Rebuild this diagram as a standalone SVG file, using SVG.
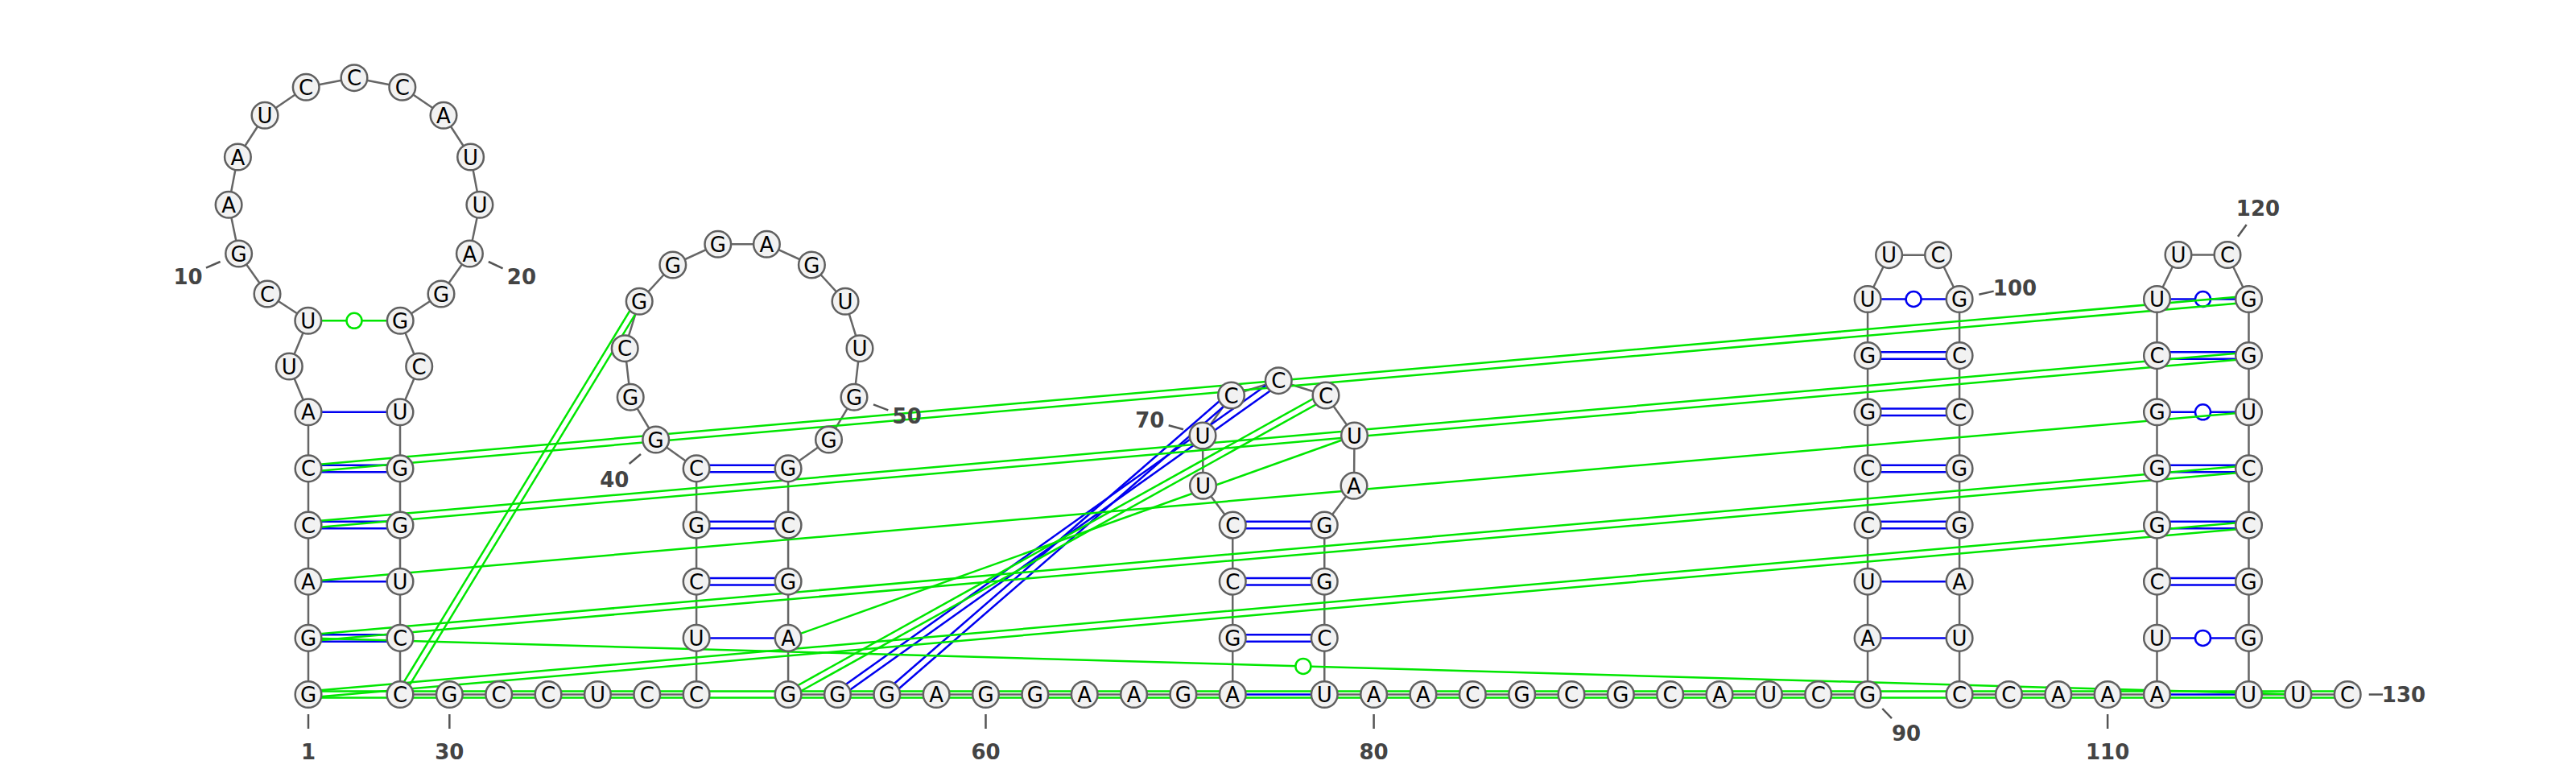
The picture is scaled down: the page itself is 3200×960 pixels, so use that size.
<svg xmlns="http://www.w3.org/2000/svg" width="3200" height="960" viewBox="0 0 3200 960">
<defs>
<style>
.bb{fill:none;stroke:#666;stroke-width:2.5;stroke-linejoin:round}
.bp{fill:none;stroke:#0000f0;stroke-width:2.5}
.gp{fill:none;stroke:#00e600;stroke-width:2.5}
.bc{fill:#fff;stroke:#0000f0;stroke-width:2.5}
.gc{fill:#fff;stroke:#00e600;stroke-width:2.5}
.nd circle{fill:#f2f2f2;stroke:#606060;stroke-width:2.5}
.nd text{font-family:"DejaVu Sans","Liberation Sans",sans-serif;font-size:26px;text-anchor:middle;fill:#000}
.lb{font-family:"DejaVu Sans","Liberation Sans",sans-serif;font-size:26px;font-weight:bold;fill:#444;text-anchor:middle}
.tk{stroke:#555;stroke-width:2.5}
</style>
</defs>
<rect width="3200" height="960" fill="#fff"/>
<g id="connectors">
<polyline class="bb" points="383,862.5 383,792.4 383,722.2 383,652.1 383,581.9 383,511.8 359.3,455 382.8,398.3 332,365 296.6,315 284.1,254.3 295.4,195 329,143.3 380.2,108.3 440,96.7 499.8,108.3 551,143.3 584.6,195 595.9,254.3 583.4,315 548,365 497.2,398.3 520.7,455 497,511.8 497,581.9 497,652.1 497,722.2 497,792.4 497,862.5 558.35,862.5 619.7,862.5 681.05,862.5 742.4,862.5 803.75,862.5 865.1,862.5 865.1,792.4 865.1,722.2 865.1,652.1 865.1,581.9 814.7,546 783.2,493.3 776.2,432.7 794.2,374.3 835.8,329 891.8,303.3 952.4,303.3 1008.4,329 1050,374.3 1068,432.7 1061,493.3 1029.5,546 979.1,581.9 979.1,652.1 979.1,722.2 979.1,792.4 979.1,862.5 1040.45,862.5 1101.8,862.5 1163.15,862.5 1224.5,862.5 1285.85,862.5 1347.2,862.5 1408.55,862.5 1469.9,862.5 1531.25,862.5 1531.25,792.4 1531.25,722.2 1531.25,652.1 1494.5,603.3 1494,541 1529.5,491 1588.25,472.7 1647,491 1682.5,541 1682,603.3 1645.25,652.1 1645.25,722.2 1645.25,792.4 1645.25,862.5 1706.6,862.5 1767.95,862.5 1829.3,862.5 1890.65,862.5 1952,862.5 2013.35,862.5 2074.7,862.5 2136.05,862.5 2197.4,862.5 2258.75,862.5 2320.1,862.5 2320.1,792.4 2320.1,722.2 2320.1,652.1 2320.1,581.9 2320.1,511.8 2320.1,441.6 2320.1,371.5 2346.6,316.7 2407.6,316.7 2434.1,371.5 2434.1,441.6 2434.1,511.8 2434.1,581.9 2434.1,652.1 2434.1,722.2 2434.1,792.4 2434.1,862.5 2495.45,862.5 2556.8,862.5 2618.15,862.5 2679.5,862.5 2679.5,792.4 2679.5,722.2 2679.5,652.1 2679.5,581.9 2679.5,511.8 2679.5,441.6 2679.5,371.5 2706,316.5 2767,316.5 2793.5,371.5 2793.5,441.6 2793.5,511.8 2793.5,581.9 2793.5,652.1 2793.5,722.2 2793.5,792.4 2793.5,862.5 2854.85,862.5 2916.2,862.5"/>
<g id="blue-pairs">
<path class="bp" d="M383 788.15H497M383 796.65H497"/>
<path class="bp" d="M383 722.2H497"/>
<path class="bp" d="M383 647.85H497M383 656.35H497"/>
<path class="bp" d="M383 577.65H497M383 586.15H497"/>
<path class="bp" d="M383 511.8H497"/>
<path class="bp" d="M865.1 792.4H979.1"/>
<path class="bp" d="M865.1 717.95H979.1M865.1 726.45H979.1"/>
<path class="bp" d="M865.1 647.85H979.1M865.1 656.35H979.1"/>
<path class="bp" d="M865.1 577.65H979.1M865.1 586.15H979.1"/>
<path class="bp" d="M1531.25 862.5H1645.25"/>
<path class="bp" d="M1531.25 788.15H1645.25M1531.25 796.65H1645.25"/>
<path class="bp" d="M1531.25 717.95H1645.25M1531.25 726.45H1645.25"/>
<path class="bp" d="M1531.25 647.85H1645.25M1531.25 656.35H1645.25"/>
<path class="bp" d="M1042.91 865.96L1590.71 476.16M1037.99 859.04L1585.79 469.24"/>
<path class="bp" d="M1104.59 865.71L1532.29 494.21M1099.01 859.29L1526.71 487.79"/>
<path class="bp" d="M2320.1 792.4H2434.1"/>
<path class="bp" d="M2320.1 722.2H2434.1"/>
<path class="bp" d="M2320.1 647.85H2434.1M2320.1 656.35H2434.1"/>
<path class="bp" d="M2320.1 577.65H2434.1M2320.1 586.15H2434.1"/>
<path class="bp" d="M2320.1 507.55H2434.1M2320.1 516.05H2434.1"/>
<path class="bp" d="M2320.1 437.35H2434.1M2320.1 445.85H2434.1"/>
<path class="bp" d="M2320.1 371.5H2434.1"/>
<circle class="bc" cx="2377.1" cy="371.5" r="9.5"/>
<path class="bp" d="M2679.5 862.5H2793.5"/>
<path class="bp" d="M2679.5 792.4H2793.5"/>
<circle class="bc" cx="2736.5" cy="792.4" r="9.5"/>
<path class="bp" d="M2679.5 717.95H2793.5M2679.5 726.45H2793.5"/>
<path class="bp" d="M2679.5 647.85H2793.5M2679.5 656.35H2793.5"/>
<path class="bp" d="M2679.5 577.65H2793.5M2679.5 586.15H2793.5"/>
<path class="bp" d="M2679.5 511.8H2793.5"/>
<circle class="bc" cx="2736.5" cy="511.8" r="9.5"/>
<path class="bp" d="M2679.5 437.35H2793.5M2679.5 445.85H2793.5"/>
<path class="bp" d="M2679.5 371.5H2793.5"/>
<circle class="bc" cx="2736.5" cy="371.5" r="9.5"/>
</g>
<g id="green-pairs">
<path class="gp" d="M382.8 398.3H497.2"/>
<circle class="gc" cx="440" cy="398.3" r="9.5"/>
<path class="gp" d="M383 577.9L2793.5 367.5M383 585.9L2793.5 375.5"/>
<path class="gp" d="M383 648.1L2793.5 437.6M383 656.1L2793.5 445.6"/>
<path class="gp" d="M383 722.2L2793.5 511.8"/>
<path class="gp" d="M383 788.4L2793.5 577.9M383 796.4L2793.5 585.9"/>
<path class="gp" d="M383 858.5L2793.5 648.1M383 866.5L2793.5 656.1"/>
<path class="gp" d="M383 858.5H2916.2M383 866.5H2916.2"/>
<path class="gp" d="M383 792.4L2854.85 862.5"/>
<circle class="gc" cx="1618.9" cy="827.45" r="9.5"/>
<path class="gp" d="M500.42 864.58L797.62 376.38M493.58 860.42L790.78 372.22"/>
<path class="gp" d="M979.1 792.4L1682.5 541"/>
<path class="gp" d="M981.04 866L1648.94 494.5M977.16 859L1645.06 487.5"/>
</g>
</g>
<g id="nodes">
<g id="n1" class="nd" transform="translate(383,862.5)"><circle r="16.3"/><text y="9.5">G</text></g>
<g id="n2" class="nd" transform="translate(383,792.4)"><circle r="16.3"/><text y="9.5">G</text></g>
<g id="n3" class="nd" transform="translate(383,722.2)"><circle r="16.3"/><text y="9.5">A</text></g>
<g id="n4" class="nd" transform="translate(383,652.1)"><circle r="16.3"/><text y="9.5">C</text></g>
<g id="n5" class="nd" transform="translate(383,581.9)"><circle r="16.3"/><text y="9.5">C</text></g>
<g id="n6" class="nd" transform="translate(383,511.8)"><circle r="16.3"/><text y="9.5">A</text></g>
<g id="n7" class="nd" transform="translate(359.3,455)"><circle r="16.3"/><text y="9.5">U</text></g>
<g id="n8" class="nd" transform="translate(382.8,398.3)"><circle r="16.3"/><text y="9.5">U</text></g>
<g id="n9" class="nd" transform="translate(332,365)"><circle r="16.3"/><text y="9.5">C</text></g>
<g id="n10" class="nd" transform="translate(296.6,315)"><circle r="16.3"/><text y="9.5">G</text></g>
<g id="n11" class="nd" transform="translate(284.1,254.3)"><circle r="16.3"/><text y="9.5">A</text></g>
<g id="n12" class="nd" transform="translate(295.4,195)"><circle r="16.3"/><text y="9.5">A</text></g>
<g id="n13" class="nd" transform="translate(329,143.3)"><circle r="16.3"/><text y="9.5">U</text></g>
<g id="n14" class="nd" transform="translate(380.2,108.3)"><circle r="16.3"/><text y="9.5">C</text></g>
<g id="n15" class="nd" transform="translate(440,96.7)"><circle r="16.3"/><text y="9.5">C</text></g>
<g id="n16" class="nd" transform="translate(499.8,108.3)"><circle r="16.3"/><text y="9.5">C</text></g>
<g id="n17" class="nd" transform="translate(551,143.3)"><circle r="16.3"/><text y="9.5">A</text></g>
<g id="n18" class="nd" transform="translate(584.6,195)"><circle r="16.3"/><text y="9.5">U</text></g>
<g id="n19" class="nd" transform="translate(595.9,254.3)"><circle r="16.3"/><text y="9.5">U</text></g>
<g id="n20" class="nd" transform="translate(583.4,315)"><circle r="16.3"/><text y="9.5">A</text></g>
<g id="n21" class="nd" transform="translate(548,365)"><circle r="16.3"/><text y="9.5">G</text></g>
<g id="n22" class="nd" transform="translate(497.2,398.3)"><circle r="16.3"/><text y="9.5">G</text></g>
<g id="n23" class="nd" transform="translate(520.7,455)"><circle r="16.3"/><text y="9.5">C</text></g>
<g id="n24" class="nd" transform="translate(497,511.8)"><circle r="16.3"/><text y="9.5">U</text></g>
<g id="n25" class="nd" transform="translate(497,581.9)"><circle r="16.3"/><text y="9.5">G</text></g>
<g id="n26" class="nd" transform="translate(497,652.1)"><circle r="16.3"/><text y="9.5">G</text></g>
<g id="n27" class="nd" transform="translate(497,722.2)"><circle r="16.3"/><text y="9.5">U</text></g>
<g id="n28" class="nd" transform="translate(497,792.4)"><circle r="16.3"/><text y="9.5">C</text></g>
<g id="n29" class="nd" transform="translate(497,862.5)"><circle r="16.3"/><text y="9.5">C</text></g>
<g id="n30" class="nd" transform="translate(558.35,862.5)"><circle r="16.3"/><text y="9.5">G</text></g>
<g id="n31" class="nd" transform="translate(619.7,862.5)"><circle r="16.3"/><text y="9.5">C</text></g>
<g id="n32" class="nd" transform="translate(681.05,862.5)"><circle r="16.3"/><text y="9.5">C</text></g>
<g id="n33" class="nd" transform="translate(742.4,862.5)"><circle r="16.3"/><text y="9.5">U</text></g>
<g id="n34" class="nd" transform="translate(803.75,862.5)"><circle r="16.3"/><text y="9.5">C</text></g>
<g id="n35" class="nd" transform="translate(865.1,862.5)"><circle r="16.3"/><text y="9.5">C</text></g>
<g id="n36" class="nd" transform="translate(865.1,792.4)"><circle r="16.3"/><text y="9.5">U</text></g>
<g id="n37" class="nd" transform="translate(865.1,722.2)"><circle r="16.3"/><text y="9.5">C</text></g>
<g id="n38" class="nd" transform="translate(865.1,652.1)"><circle r="16.3"/><text y="9.5">G</text></g>
<g id="n39" class="nd" transform="translate(865.1,581.9)"><circle r="16.3"/><text y="9.5">C</text></g>
<g id="n40" class="nd" transform="translate(814.7,546)"><circle r="16.3"/><text y="9.5">G</text></g>
<g id="n41" class="nd" transform="translate(783.2,493.3)"><circle r="16.3"/><text y="9.5">G</text></g>
<g id="n42" class="nd" transform="translate(776.2,432.7)"><circle r="16.3"/><text y="9.5">C</text></g>
<g id="n43" class="nd" transform="translate(794.2,374.3)"><circle r="16.3"/><text y="9.5">G</text></g>
<g id="n44" class="nd" transform="translate(835.8,329)"><circle r="16.3"/><text y="9.5">G</text></g>
<g id="n45" class="nd" transform="translate(891.8,303.3)"><circle r="16.3"/><text y="9.5">G</text></g>
<g id="n46" class="nd" transform="translate(952.4,303.3)"><circle r="16.3"/><text y="9.5">A</text></g>
<g id="n47" class="nd" transform="translate(1008.4,329)"><circle r="16.3"/><text y="9.5">G</text></g>
<g id="n48" class="nd" transform="translate(1050,374.3)"><circle r="16.3"/><text y="9.5">U</text></g>
<g id="n49" class="nd" transform="translate(1068,432.7)"><circle r="16.3"/><text y="9.5">U</text></g>
<g id="n50" class="nd" transform="translate(1061,493.3)"><circle r="16.3"/><text y="9.5">G</text></g>
<g id="n51" class="nd" transform="translate(1029.5,546)"><circle r="16.3"/><text y="9.5">G</text></g>
<g id="n52" class="nd" transform="translate(979.1,581.9)"><circle r="16.3"/><text y="9.5">G</text></g>
<g id="n53" class="nd" transform="translate(979.1,652.1)"><circle r="16.3"/><text y="9.5">C</text></g>
<g id="n54" class="nd" transform="translate(979.1,722.2)"><circle r="16.3"/><text y="9.5">G</text></g>
<g id="n55" class="nd" transform="translate(979.1,792.4)"><circle r="16.3"/><text y="9.5">A</text></g>
<g id="n56" class="nd" transform="translate(979.1,862.5)"><circle r="16.3"/><text y="9.5">G</text></g>
<g id="n57" class="nd" transform="translate(1040.45,862.5)"><circle r="16.3"/><text y="9.5">G</text></g>
<g id="n58" class="nd" transform="translate(1101.8,862.5)"><circle r="16.3"/><text y="9.5">G</text></g>
<g id="n59" class="nd" transform="translate(1163.15,862.5)"><circle r="16.3"/><text y="9.5">A</text></g>
<g id="n60" class="nd" transform="translate(1224.5,862.5)"><circle r="16.3"/><text y="9.5">G</text></g>
<g id="n61" class="nd" transform="translate(1285.85,862.5)"><circle r="16.3"/><text y="9.5">G</text></g>
<g id="n62" class="nd" transform="translate(1347.2,862.5)"><circle r="16.3"/><text y="9.5">A</text></g>
<g id="n63" class="nd" transform="translate(1408.55,862.5)"><circle r="16.3"/><text y="9.5">A</text></g>
<g id="n64" class="nd" transform="translate(1469.9,862.5)"><circle r="16.3"/><text y="9.5">G</text></g>
<g id="n65" class="nd" transform="translate(1531.25,862.5)"><circle r="16.3"/><text y="9.5">A</text></g>
<g id="n66" class="nd" transform="translate(1531.25,792.4)"><circle r="16.3"/><text y="9.5">G</text></g>
<g id="n67" class="nd" transform="translate(1531.25,722.2)"><circle r="16.3"/><text y="9.5">C</text></g>
<g id="n68" class="nd" transform="translate(1531.25,652.1)"><circle r="16.3"/><text y="9.5">C</text></g>
<g id="n69" class="nd" transform="translate(1494.5,603.3)"><circle r="16.3"/><text y="9.5">U</text></g>
<g id="n70" class="nd" transform="translate(1494,541)"><circle r="16.3"/><text y="9.5">U</text></g>
<g id="n71" class="nd" transform="translate(1529.5,491)"><circle r="16.3"/><text y="9.5">C</text></g>
<g id="n72" class="nd" transform="translate(1588.25,472.7)"><circle r="16.3"/><text y="9.5">C</text></g>
<g id="n73" class="nd" transform="translate(1647,491)"><circle r="16.3"/><text y="9.5">C</text></g>
<g id="n74" class="nd" transform="translate(1682.5,541)"><circle r="16.3"/><text y="9.5">U</text></g>
<g id="n75" class="nd" transform="translate(1682,603.3)"><circle r="16.3"/><text y="9.5">A</text></g>
<g id="n76" class="nd" transform="translate(1645.25,652.1)"><circle r="16.3"/><text y="9.5">G</text></g>
<g id="n77" class="nd" transform="translate(1645.25,722.2)"><circle r="16.3"/><text y="9.5">G</text></g>
<g id="n78" class="nd" transform="translate(1645.25,792.4)"><circle r="16.3"/><text y="9.5">C</text></g>
<g id="n79" class="nd" transform="translate(1645.25,862.5)"><circle r="16.3"/><text y="9.5">U</text></g>
<g id="n80" class="nd" transform="translate(1706.6,862.5)"><circle r="16.3"/><text y="9.5">A</text></g>
<g id="n81" class="nd" transform="translate(1767.95,862.5)"><circle r="16.3"/><text y="9.5">A</text></g>
<g id="n82" class="nd" transform="translate(1829.3,862.5)"><circle r="16.3"/><text y="9.5">C</text></g>
<g id="n83" class="nd" transform="translate(1890.65,862.5)"><circle r="16.3"/><text y="9.5">G</text></g>
<g id="n84" class="nd" transform="translate(1952,862.5)"><circle r="16.3"/><text y="9.5">C</text></g>
<g id="n85" class="nd" transform="translate(2013.35,862.5)"><circle r="16.3"/><text y="9.5">G</text></g>
<g id="n86" class="nd" transform="translate(2074.7,862.5)"><circle r="16.3"/><text y="9.5">C</text></g>
<g id="n87" class="nd" transform="translate(2136.05,862.5)"><circle r="16.3"/><text y="9.5">A</text></g>
<g id="n88" class="nd" transform="translate(2197.4,862.5)"><circle r="16.3"/><text y="9.5">U</text></g>
<g id="n89" class="nd" transform="translate(2258.75,862.5)"><circle r="16.3"/><text y="9.5">C</text></g>
<g id="n90" class="nd" transform="translate(2320.1,862.5)"><circle r="16.3"/><text y="9.5">G</text></g>
<g id="n91" class="nd" transform="translate(2320.1,792.4)"><circle r="16.3"/><text y="9.5">A</text></g>
<g id="n92" class="nd" transform="translate(2320.1,722.2)"><circle r="16.3"/><text y="9.5">U</text></g>
<g id="n93" class="nd" transform="translate(2320.1,652.1)"><circle r="16.3"/><text y="9.5">C</text></g>
<g id="n94" class="nd" transform="translate(2320.1,581.9)"><circle r="16.3"/><text y="9.5">C</text></g>
<g id="n95" class="nd" transform="translate(2320.1,511.8)"><circle r="16.3"/><text y="9.5">G</text></g>
<g id="n96" class="nd" transform="translate(2320.1,441.6)"><circle r="16.3"/><text y="9.5">G</text></g>
<g id="n97" class="nd" transform="translate(2320.1,371.5)"><circle r="16.3"/><text y="9.5">U</text></g>
<g id="n98" class="nd" transform="translate(2346.6,316.7)"><circle r="16.3"/><text y="9.5">U</text></g>
<g id="n99" class="nd" transform="translate(2407.6,316.7)"><circle r="16.3"/><text y="9.5">C</text></g>
<g id="n100" class="nd" transform="translate(2434.1,371.5)"><circle r="16.3"/><text y="9.5">G</text></g>
<g id="n101" class="nd" transform="translate(2434.1,441.6)"><circle r="16.3"/><text y="9.5">C</text></g>
<g id="n102" class="nd" transform="translate(2434.1,511.8)"><circle r="16.3"/><text y="9.5">C</text></g>
<g id="n103" class="nd" transform="translate(2434.1,581.9)"><circle r="16.3"/><text y="9.5">G</text></g>
<g id="n104" class="nd" transform="translate(2434.1,652.1)"><circle r="16.3"/><text y="9.5">G</text></g>
<g id="n105" class="nd" transform="translate(2434.1,722.2)"><circle r="16.3"/><text y="9.5">A</text></g>
<g id="n106" class="nd" transform="translate(2434.1,792.4)"><circle r="16.3"/><text y="9.5">U</text></g>
<g id="n107" class="nd" transform="translate(2434.1,862.5)"><circle r="16.3"/><text y="9.5">C</text></g>
<g id="n108" class="nd" transform="translate(2495.45,862.5)"><circle r="16.3"/><text y="9.5">C</text></g>
<g id="n109" class="nd" transform="translate(2556.8,862.5)"><circle r="16.3"/><text y="9.5">A</text></g>
<g id="n110" class="nd" transform="translate(2618.15,862.5)"><circle r="16.3"/><text y="9.5">A</text></g>
<g id="n111" class="nd" transform="translate(2679.5,862.5)"><circle r="16.3"/><text y="9.5">A</text></g>
<g id="n112" class="nd" transform="translate(2679.5,792.4)"><circle r="16.3"/><text y="9.5">U</text></g>
<g id="n113" class="nd" transform="translate(2679.5,722.2)"><circle r="16.3"/><text y="9.5">C</text></g>
<g id="n114" class="nd" transform="translate(2679.5,652.1)"><circle r="16.3"/><text y="9.5">G</text></g>
<g id="n115" class="nd" transform="translate(2679.5,581.9)"><circle r="16.3"/><text y="9.5">G</text></g>
<g id="n116" class="nd" transform="translate(2679.5,511.8)"><circle r="16.3"/><text y="9.5">G</text></g>
<g id="n117" class="nd" transform="translate(2679.5,441.6)"><circle r="16.3"/><text y="9.5">C</text></g>
<g id="n118" class="nd" transform="translate(2679.5,371.5)"><circle r="16.3"/><text y="9.5">U</text></g>
<g id="n119" class="nd" transform="translate(2706,316.5)"><circle r="16.3"/><text y="9.5">U</text></g>
<g id="n120" class="nd" transform="translate(2767,316.5)"><circle r="16.3"/><text y="9.5">C</text></g>
<g id="n121" class="nd" transform="translate(2793.5,371.5)"><circle r="16.3"/><text y="9.5">G</text></g>
<g id="n122" class="nd" transform="translate(2793.5,441.6)"><circle r="16.3"/><text y="9.5">G</text></g>
<g id="n123" class="nd" transform="translate(2793.5,511.8)"><circle r="16.3"/><text y="9.5">U</text></g>
<g id="n124" class="nd" transform="translate(2793.5,581.9)"><circle r="16.3"/><text y="9.5">C</text></g>
<g id="n125" class="nd" transform="translate(2793.5,652.1)"><circle r="16.3"/><text y="9.5">C</text></g>
<g id="n126" class="nd" transform="translate(2793.5,722.2)"><circle r="16.3"/><text y="9.5">G</text></g>
<g id="n127" class="nd" transform="translate(2793.5,792.4)"><circle r="16.3"/><text y="9.5">G</text></g>
<g id="n128" class="nd" transform="translate(2793.5,862.5)"><circle r="16.3"/><text y="9.5">U</text></g>
<g id="n129" class="nd" transform="translate(2854.85,862.5)"><circle r="16.3"/><text y="9.5">U</text></g>
<g id="n130" class="nd" transform="translate(2916.2,862.5)"><circle r="16.3"/><text y="9.5">C</text></g>
</g>
<g id="labels">
<line class="tk" x1="383" y1="887" x2="383" y2="905"/><text class="lb" x="383" y="942.5">1</text>
<line class="tk" x1="558.35" y1="887" x2="558.35" y2="905"/><text class="lb" x="558.35" y="942.5">30</text>
<line class="tk" x1="1224.5" y1="887" x2="1224.5" y2="905"/><text class="lb" x="1224.5" y="942.5">60</text>
<line class="tk" x1="1706.6" y1="887" x2="1706.6" y2="905"/><text class="lb" x="1706.6" y="942.5">80</text>
<line class="tk" x1="2618.15" y1="887" x2="2618.15" y2="905"/><text class="lb" x="2618.15" y="942.5">110</text>
<line class="tk" x1="2338.3" y1="880" x2="2350" y2="892.2"/><text class="lb" x="2368" y="919.5">90</text>
<line class="tk" x1="2458.3" y1="365.7" x2="2476.7" y2="361.6"/><text class="lb" x="2503" y="366.5">100</text>
<line class="tk" x1="2780" y1="293.7" x2="2790.7" y2="278.9"/><text class="lb" x="2805" y="267.5">120</text>
<line class="tk" x1="2942.7" y1="862.5" x2="2960" y2="862.5"/><text class="lb" x="2986" y="872">130</text>
<line class="tk" x1="256" y1="332.7" x2="273.6" y2="325"/><text class="lb" x="233.6" y="352.8">10</text>
<line class="tk" x1="606.8" y1="325" x2="624.6" y2="333.3"/><text class="lb" x="647.9" y="352.8">20</text>
<line class="tk" x1="781.7" y1="576" x2="796" y2="564"/><text class="lb" x="763.3" y="604.5">40</text>
<line class="tk" x1="1085" y1="502.3" x2="1103.3" y2="509.3"/><text class="lb" x="1126.7" y="526.2">50</text>
<line class="tk" x1="1451.7" y1="528.3" x2="1470" y2="533.3"/><text class="lb" x="1428.3" y="531.2">70</text>
</g>
</svg>
